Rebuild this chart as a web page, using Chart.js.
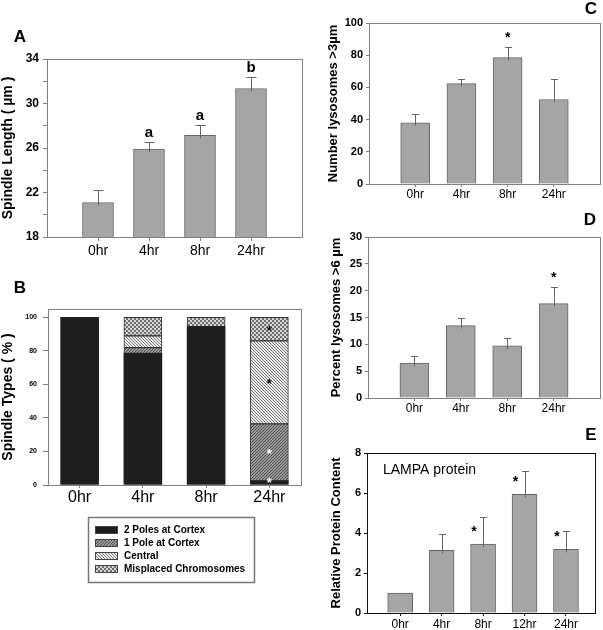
<!DOCTYPE html>
<html>
<head>
<meta charset="utf-8">
<script src="https://cdn.jsdelivr.net/npm/chart.js@4.4.1/dist/chart.umd.min.js"></script>
<style>
  html, body { margin: 0; padding: 0; background: #fff; }
  body { width: 603px; height: 630px; position: relative; overflow: hidden; }
  .panel { position: absolute; }
</style>
</head>
<body>
<div class="panel" style="left:0;top:0"><canvas id="chartA" width="303" height="262"></canvas></div>
<div class="panel" style="left:0;top:262px"><canvas id="chartB" width="303" height="368"></canvas></div>
<div class="panel" style="left:303px;top:0"><canvas id="chartC" width="300" height="210"></canvas></div>
<div class="panel" style="left:303px;top:210px"><canvas id="chartD" width="300" height="210"></canvas></div>
<div class="panel" style="left:303px;top:420px"><canvas id="chartE" width="300" height="210"></canvas></div>
<script>
// ---- data ----
const hours = ['0hr', '4hr', '8hr', '24hr'];
const hoursE = ['0hr', '4hr', '8hr', '12hr', '24hr'];

// A: spindle length (µm), mean and top of error bar
const spindleLength = [21.1, 25.9, 27.15, 31.35];
const spindleLengthErr = [22.25, 26.55, 28.1, 32.35];
const spindleLengthMarks = ['', 'a', 'a', 'b'];

// B: spindle types (%)
const spindleTypes = ['2 Poles at Cortex', '1 Pole at Cortex', 'Central', 'Misplaced Chromosomes'];
const twoPoles = [100, 78.5, 94.5, 2.5];
const onePole = [0, 3.5, 0, 34];
const central = [0, 7, 0, 49.5];
const misplaced = [0, 11, 5.5, 14];
const spindleTypeMarks = ['', '', '', '*'];

// C: number lysosomes > 3µm
const lysoCount = [38, 62.3, 78.5, 52.5];
const lysoCountErr = [43.5, 65.3, 84.8, 65];
const lysoCountMarks = ['', '', '*', ''];

// D: percent lysosomes > 6µm
const lysoPercent = [6.5, 13.5, 9.7, 17.6];
const lysoPercentErr = [7.8, 15, 11.15, 20.6];
const lysoPercentMarks = ['', '', '', '*'];

// E: LAMPA relative protein content
const lampa = [1, 3.13, 3.45, 5.93, 3.18];
const lampaErr = [null, 3.93, 4.78, 7.08, 4.1];
const lampaMarks = ['', '', '*', '*', '*'];

// ---- look ----
const FONT = '"Liberation Sans", Arial, sans-serif';
const TEXT = '#000';
const BAR_FILL = '#a5a5a5';
const BAR_EDGE = '#666';
const AXIS = '#808080';

Chart.defaults.font.family = FONT;
Chart.defaults.color = TEXT;

function makePattern(kind) {
    const c = document.createElement('canvas');
    const ctx = c.getContext('2d');
    if (kind === 'one') {
        c.width = c.height = 3;
        ctx.fillStyle = '#9a9a9a'; ctx.fillRect(0, 0, 3, 3);
        ctx.fillStyle = '#4d4d4d';
        for (let i = 0; i < 3; i++) ctx.fillRect(2 - i, i, 1, 1);
    } else if (kind === 'central') {
        c.width = c.height = 3;
        ctx.fillStyle = '#ececec'; ctx.fillRect(0, 0, 3, 3);
        ctx.fillStyle = '#7a7a7a';
        for (let i = 0; i < 3; i++) ctx.fillRect(i, i, 1, 1);
    } else {
        c.width = c.height = 4;
        ctx.fillStyle = '#6f6f6f'; ctx.fillRect(0, 0, 4, 4);
        ctx.fillStyle = '#d6d6d6';
        ctx.fillRect(0, 0, 2, 2); ctx.fillRect(2, 2, 2, 2);
    }
    return ctx.createPattern(c, 'repeat');
}

// ---- plugins ----
const framePlugin = {
    id: 'frame',
    afterDatasetsDraw(chart, args, opts) {
        const a = chart.chartArea, ctx = chart.ctx;
        ctx.save();
        ctx.strokeStyle = opts.color || AXIS;
        ctx.lineWidth = opts.width || 1;
        ctx.strokeRect(Math.round(a.left) + 0.5, Math.round(a.top) + 0.5,
            Math.round(a.right - a.left), Math.round(a.bottom - a.top));
        ctx.restore();
    }
};

const errorBarPlugin = {
    id: 'errorBars',
    afterDatasetsDraw(chart, args, opts) {
        if (!opts.tops) return;
        const ctx = chart.ctx, y = chart.scales.y;
        const meta = chart.getDatasetMeta(0);
        ctx.save();
        ctx.strokeStyle = opts.color || '#666';
        ctx.lineWidth = 1;
        meta.data.forEach((bar, i) => {
            const t = opts.tops[i];
            if (t == null) return;
            const yp = Math.round(y.getPixelForValue(t)) + 0.5;
            const x = Math.round(bar.x) + 0.5;
            ctx.beginPath();
            ctx.moveTo(x, bar.y + 3);
            ctx.lineTo(x, yp);
            ctx.moveTo(x - opts.cap / 2, yp);
            ctx.lineTo(x + opts.cap / 2, yp);
            ctx.stroke();
        });
        ctx.restore();
    }
};

const marksPlugin = {
    id: 'marks',
    afterDatasetsDraw(chart, args, opts) {
        if (!opts.items) return;
        const ctx = chart.ctx, y = chart.scales.y;
        ctx.save();
        ctx.textAlign = 'center';
        ctx.textBaseline = 'middle';
        opts.items.forEach(item => {
            const meta = chart.getDatasetMeta(item.ds || 0);
            ctx.font = item.font;
            ctx.fillStyle = item.color || TEXT;
            item.texts.forEach((t, i) => {
                if (!t) return;
                const el = meta.data[i];
                let py;
                if (item.at === 'mid') py = (el.y + el.base) / 2;
                else if (item.at === 'top') py = el.y;
                else py = y.getPixelForValue(item.tops[i]);
                ctx.fillText(t, el.x + (item.dx || 0), py + (item.dy || 0));
            });
        });
        ctx.restore();
    }
};

const panelTextPlugin = {
    id: 'panelText',
    afterDraw(chart, args, opts) {
        if (!opts.texts) return;
        const ctx = chart.ctx;
        ctx.save();
        ctx.textBaseline = 'middle';
        opts.texts.forEach(t => {
            ctx.font = t.font;
            ctx.fillStyle = TEXT;
            ctx.textAlign = t.align || 'center';
            ctx.fillText(t.text, t.x, t.y);
        });
        ctx.restore();
    }
};

const boxLegendPlugin = {
    id: 'boxLegend',
    afterDraw(chart, args, opts) {
        if (!opts.box) return;
        const ctx = chart.ctx, b = opts.box;
        ctx.save();
        ctx.fillStyle = '#fff';
        ctx.fillRect(b.x, b.y, b.w, b.h);
        ctx.strokeStyle = '#777';
        ctx.lineWidth = 1.5;
        ctx.strokeRect(b.x + 0.5, b.y + 0.5, b.w, b.h);
        ctx.font = 'bold 10px ' + FONT;
        ctx.textBaseline = 'middle';
        ctx.textAlign = 'left';
        chart.data.datasets.forEach((ds, i) => {
            const cy = b.y + 13 + i * 13;
            ctx.fillStyle = ds.backgroundColor;
            ctx.fillRect(b.x + 7, cy - 4, 23, 8);
            ctx.strokeStyle = '#444';
            ctx.lineWidth = 1;
            ctx.strokeRect(b.x + 7.5, cy - 3.5, 22, 7);
            ctx.fillStyle = TEXT;
            ctx.fillText(ds.label, b.x + 36, cy + 0.5);
        });
        ctx.restore();
    }
};

// ---- panel builder for the single-series bar charts ----
function barPanel(id, o) {
    const labels = o.labels;
    return new Chart(document.getElementById(id), {
        type: 'bar',
        data: {
            datasets: [{
                data: o.values.map((v, i) => ({ x: i, y: v })),
                backgroundColor: BAR_FILL,
                borderColor: BAR_EDGE,
                borderWidth: 1,
                borderSkipped: 'bottom',
                barThickness: o.barWidth
            }]
        },
        options: {
            responsive: false,
            animation: false,
            devicePixelRatio: 1,
            layout: { padding: o.padding },
            plugins: {
                legend: { display: false },
                tooltip: { enabled: false },
                frame: { color: o.frameColor },
                errorBars: { tops: o.err, cap: o.cap, color: '#666' },
                marks: { items: o.marks },
                panelText: { texts: o.texts }
            },
            scales: {
                x: {
                    type: 'linear',
                    min: o.xMin, max: o.xMax,
                    offset: false,
                    afterBuildTicks: s => { s.ticks = labels.map((_, i) => ({ value: i })); },
                    afterFit: s => { s.height = o.xHeight; },
                    grid: { offset: false, drawOnChartArea: false, tickLength: o.xTick, color: o.frameColor || AXIS },
                    border: { display: false },
                    ticks: {
                        autoSkip: false, maxRotation: 0, padding: o.xPad,
                        font: { size: o.xFontSize }, color: TEXT,
                        callback: v => labels[v]
                    }
                },
                y: {
                    min: o.yMin, max: o.yMax,
                    afterBuildTicks: s => {
                        const t = [];
                        for (let v = o.yMin; v <= o.yLast + 1e-9; v += o.yStep) t.push({ value: v });
                        s.ticks = t;
                    },
                    afterFit: s => { s.width = o.yWidth; },
                    grid: { drawOnChartArea: false, tickLength: o.yTick, color: o.frameColor || AXIS },
                    border: { display: false },
                    ticks: {
                        padding: o.yPad, color: TEXT,
                        font: { size: o.yFontSize, weight: 'bold' },
                        callback: v => ((v - o.yMin) % o.yLabelStep === 0 ? v : '')
                    },
                    title: {
                        display: true, text: o.yTitle, color: TEXT,
                        font: { size: o.yTitleSize, weight: 'bold' },
                        padding: o.yTitlePad
                    }
                }
            }
        },
        plugins: [framePlugin, errorBarPlugin, marksPlugin, panelTextPlugin]
    });
}

// A
barPanel('chartA', {
    labels: hours, values: spindleLength, err: spindleLengthErr,
    xMin: -1, xMax: 4, barWidth: 31, cap: 10,
    padding: { left: 0, top: 59, right: 1, bottom: 0 },
    yWidth: 47, xHeight: 25, xTick: 4, xPad: 2, xFontSize: 14,
    yMin: 18, yMax: 34, yLast: 34, yStep: 2, yLabelStep: 4,
    yTick: 4, yPad: 4, yFontSize: 12,
    yTitle: 'Spindle Length ( µm )', yTitleSize: 14, yTitlePad: { top: 0, bottom: 0 },
    marks: [{ texts: spindleLengthMarks, tops: spindleLengthErr, dy: -9, font: 'bold 15px ' + FONT }],
    texts: [{ text: 'A', x: 20, y: 37, font: 'bold 17px ' + FONT }]
});

// B
(function () {
    const datasets = [
        { label: spindleTypes[0], data: twoPoles, backgroundColor: '#1e1e1e', borderWidth: 0 },
        { label: spindleTypes[1], data: onePole, backgroundColor: makePattern('one'), borderColor: '#333', borderWidth: 1 },
        { label: spindleTypes[2], data: central, backgroundColor: makePattern('central'), borderColor: '#333', borderWidth: 1 },
        { label: spindleTypes[3], data: misplaced, backgroundColor: makePattern('mis'), borderColor: '#333', borderWidth: 1 }
    ].map(d => Object.assign(d, { barThickness: 38, borderSkipped: false }));

    new Chart(document.getElementById('chartB'), {
        type: 'bar',
        data: { labels: hours, datasets },
        options: {
            responsive: false,
            animation: false,
            devicePixelRatio: 1,
            layout: { padding: { left: 0, top: 47, right: 2, bottom: 120 } },
            plugins: {
                legend: { display: false },
                tooltip: { enabled: false },
                frame: { color: AXIS },
                marks: {
                    items: [
                        { ds: 0, texts: spindleTypeMarks, at: 'mid', dy: 1, color: '#fff', font: 'bold 13px ' + FONT },
                        { ds: 1, texts: spindleTypeMarks, at: 'mid', dy: 2, color: '#fff', font: 'bold 13px ' + FONT },
                        { ds: 2, texts: spindleTypeMarks, at: 'mid', dy: 2, color: '#000', font: 'bold 13px ' + FONT },
                        { ds: 3, texts: spindleTypeMarks, at: 'mid', dy: 2, color: '#000', font: 'bold 13px ' + FONT }
                    ]
                },
                panelText: { texts: [{ text: 'B', x: 20, y: 26, font: 'bold 17px ' + FONT }] },
                boxLegend: { box: { x: 88, y: 255, w: 166, h: 65 } }
            },
            scales: {
                x: {
                    stacked: true,
                    afterFit: s => { s.height = 25; },
                    grid: { drawOnChartArea: false, tickLength: 3, color: AXIS, offset: false },
                    border: { display: false },
                    ticks: { padding: 0, font: { size: 16 }, color: TEXT, maxRotation: 0 }
                },
                y: {
                    stacked: true,
                    min: 0, max: 105,
                    afterBuildTicks: s => {
                        const t = [];
                        for (let v = 0; v <= 100; v += 20) t.push({ value: v });
                        s.ticks = t;
                    },
                    afterFit: s => { s.width = 48; },
                    grid: { drawOnChartArea: false, tickLength: 5, color: AXIS },
                    border: { display: false },
                    ticks: { padding: 6, font: { size: 7, weight: 'bold' }, color: TEXT },
                    title: {
                        display: true, text: 'Spindle Types ( % )', color: TEXT,
                        font: { size: 14, weight: 'bold' }, padding: { top: 0, bottom: 0 }
                    }
                }
            }
        },
        plugins: [framePlugin, marksPlugin, panelTextPlugin, boxLegendPlugin]
    });
})();

// C
barPanel('chartC', {
    labels: hours, values: lysoCount, err: lysoCountErr,
    xMin: -1, xMax: 4, barWidth: 29, cap: 7,
    padding: { left: 19, top: 23, right: 3, bottom: 0 },
    yWidth: 47, xHeight: 26, xTick: 3, xPad: 0, xFontSize: 12,
    yMin: 0, yMax: 100, yLast: 100, yStep: 20, yLabelStep: 20,
    yTick: 3, yPad: 3, yFontSize: 11,
    yTitle: 'Number lysosomes >3µm', yTitleSize: 13, yTitlePad: { top: 4, bottom: 0 },
    marks: [{ texts: lysoCountMarks, tops: lysoCountErr, dy: -9, font: 'bold 14px ' + FONT }],
    texts: [{ text: 'C', x: 288, y: 9, font: 'bold 17px ' + FONT }]
});

// D
barPanel('chartD', {
    labels: hours, values: lysoPercent, err: lysoPercentErr,
    xMin: -1, xMax: 4, barWidth: 29, cap: 7,
    padding: { left: 19, top: 27, right: 3, bottom: 0 },
    yWidth: 46, xHeight: 22, xTick: 3, xPad: 0, xFontSize: 12,
    yMin: 0, yMax: 30, yLast: 30, yStep: 5, yLabelStep: 5,
    yTick: 3, yPad: 3, yFontSize: 11,
    yTitle: 'Percent lysosomes >6 µm', yTitleSize: 13, yTitlePad: { top: 7, bottom: 0 },
    marks: [{ texts: lysoPercentMarks, tops: lysoPercentErr, dy: -9, font: 'bold 14px ' + FONT }],
    texts: [{ text: 'D', x: 287, y: 10, font: 'bold 17px ' + FONT }]
});

// E
barPanel('chartE', {
    labels: hoursE, values: lampa, err: lampaErr,
    xMin: -0.8, xMax: 4.7, barWidth: 25, cap: 7,
    padding: { left: 19, top: 33, right: 8, bottom: 0 },
    yWidth: 45, xHeight: 17, xTick: 3, xPad: 1, xFontSize: 12,
    yMin: 0, yMax: 8, yLast: 8, yStep: 2, yLabelStep: 2,
    yTick: 3, yPad: 3, yFontSize: 11,
    frameColor: '#111',
    yTitle: 'Relative Protein Content', yTitleSize: 13, yTitlePad: { top: 7, bottom: 0 },
    marks: [{ texts: lampaMarks, at: 'top', dx: -9, dy: -12, font: 'bold 14px ' + FONT }],
    texts: [
        { text: 'E', x: 288, y: 15, font: 'bold 17px ' + FONT },
        { text: 'LAMPA protein', x: 80, y: 50, align: 'left', font: '14px ' + FONT }
    ]
});
</script>
</body>
</html>
